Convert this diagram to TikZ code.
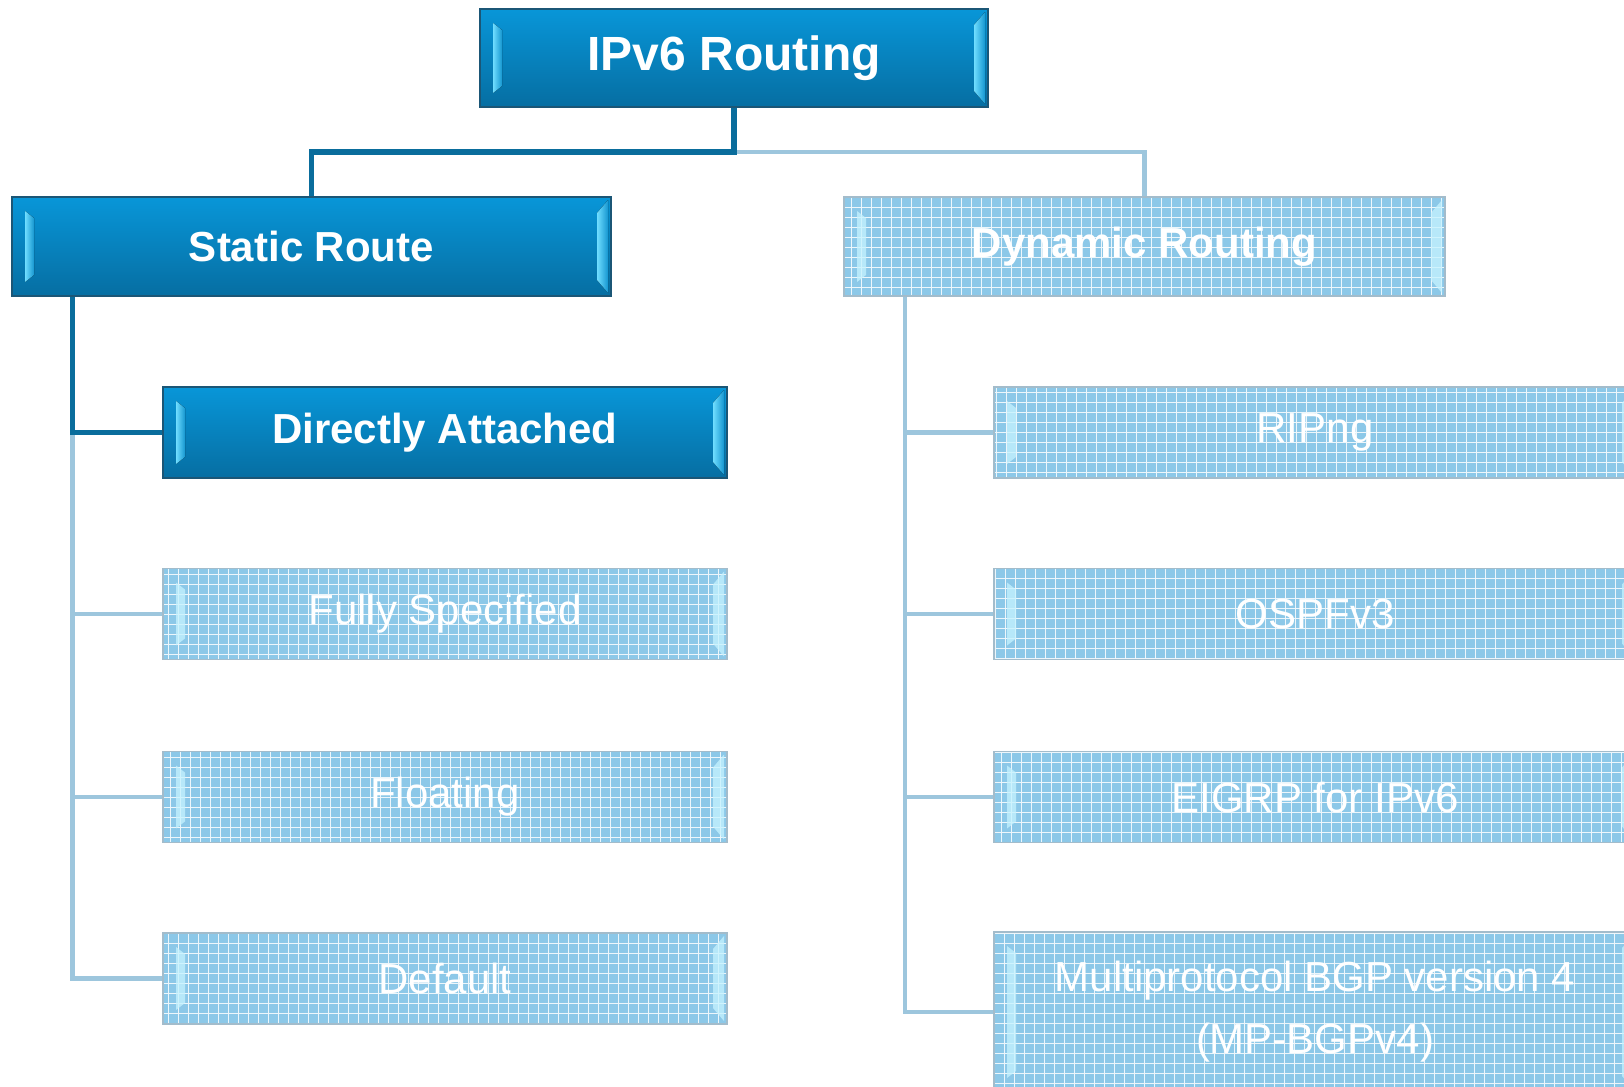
\documentclass[tikz,border=0pt]{standalone}
\usepackage{fontspec}
\setmainfont{Liberation Sans}
\usetikzlibrary{calc}

\definecolor{dktop}{HTML}{0896D8}
\definecolor{dkbot}{HTML}{066EA2}
\definecolor{dkedge}{HTML}{1B5676}
\definecolor{dkwire}{HTML}{0A6D9C}
\definecolor{bevlight}{HTML}{6FDDFF}
\definecolor{bevdark}{HTML}{1596D0}
\definecolor{fdfill}{HTML}{8CC8E8}
\definecolor{fdedge}{HTML}{A3BCCB}
\definecolor{fdwire}{HTML}{9DC6DD}
\definecolor{fdbevel}{HTML}{C6F3FF}

\begin{document}
\begin{tikzpicture}[x=0.5pt,y=-0.5pt,
  % bevelled end caps shared by both box kinds
  bevels/.style 2 args={path picture={
      \path (path picture bounding box.south west) coordinate (ppbl)
            (path picture bounding box.north east) coordinate (pptr)
            (ppbl|-pptr) coordinate (pptl)
            (pptr|-ppbl) coordinate (ppbr);
      #1
      \fill[#2]
        ($(pptl)+(6.5pt,-7pt)$) -- ($(pptl)+(11pt,-10.5pt)$) --
        ($(ppbl)+(11pt,10.5pt)$) -- ($(ppbl)+(6.5pt,7pt)$) -- cycle;
      \fill[#2]
        ($(pptr)+(-1.5pt,-1.5pt)$) -- ($(pptr)+(-7pt,-8pt)$) --
        ($(ppbr)+(-7pt,8pt)$) -- ($(ppbr)+(-1.5pt,1.5pt)$) -- cycle;
  }},
  darkbox/.style={rectangle, draw=dkedge, line width=1.2pt,
    top color=dktop, bottom color=dkbot, text=white, inner sep=0pt,
    font=\bfseries\fontsize{21}{25}\selectfont,
    bevels={}{left color=bevlight, right color=bevdark}},
  fadebox/.style={rectangle, draw=fdedge, line width=0.8pt,
    fill=fdfill, text=white, inner sep=0pt,
    font=\fontsize{21}{31}\selectfont,
    bevels={\draw[white, line width=0.45pt, opacity=0.85]
              (ppbl) grid[step=5pt] (pptr);}{fdbevel, opacity=0.75}},
  leftcol/.style={minimum width=282pt, minimum height=45.5pt},
  rightcol/.style={minimum width=321pt, minimum height=45.5pt},
  dkline/.style={draw=dkwire, line width=2.6pt},
  fdline/.style={draw=fdwire, line width=2.4pt}
]
\useasboundingbox (0,0) rectangle (1624,1087);
\clip (0,0) rectangle (1624,1087);

% boxes
\node[darkbox, minimum width=254pt, minimum height=49pt,
      font=\bfseries\fontsize{24}{28}\selectfont] (root) at (734,58) {IPv6 Routing};
\node[darkbox, minimum width=299.5pt, minimum height=49.5pt] (static) at (311.5,246.5) {Static Route};
\node[fadebox, minimum width=300.5pt, minimum height=49.5pt,
      font=\bfseries\fontsize{21}{25}\selectfont] (dynamic) at (1144.5,246.5) {Dynamic Routing};

\node[darkbox, leftcol] (direct)   at (445,432.5) {Directly Attached};
\node[fadebox, leftcol] (fully)    at (445,614)   {Fully Specified};
\node[fadebox, leftcol] (floating) at (445,797)   {Floating};
\node[fadebox, leftcol] (default)  at (445,978.5) {Default};

\node[fadebox, rightcol] (ripng) at (1315,432.5) {RIPng};
\node[fadebox, rightcol] (ospf)  at (1315,614)   {OSPFv3};
\node[fadebox, rightcol] (eigrp) at (1315,797)   {EIGRP for IPv6};
\node[fadebox, rightcol, minimum height=80pt, align=center] (mpbgp) at (1315,1012)
  {Multiprotocol BGP version 4\\(MP-BGPv4)};

% trunk positions of the connector trees
\coordinate (bar) at (0,152);
\coordinate (lx) at (72.5,0);
\coordinate (rx) at (905,0);

% top level
\draw[fdline] (root.south |- bar) -| (dynamic.north);
\draw[dkline] (root.south) -- (root.south |- bar) -| (static.north);

% static branch
\draw[fdline] (direct.west -| lx) |- (default.west);
\draw[fdline] (fully.west -| lx) -- (fully.west);
\draw[fdline] (floating.west -| lx) -- (floating.west);
\draw[dkline] (static.south -| lx) |- (direct.west);

% dynamic branch
\draw[fdline] (dynamic.south -| rx) |- (mpbgp.west);
\draw[fdline] (ripng.west -| rx) -- (ripng.west);
\draw[fdline] (ospf.west -| rx) -- (ospf.west);
\draw[fdline] (eigrp.west -| rx) -- (eigrp.west);
\end{tikzpicture}
\end{document}
